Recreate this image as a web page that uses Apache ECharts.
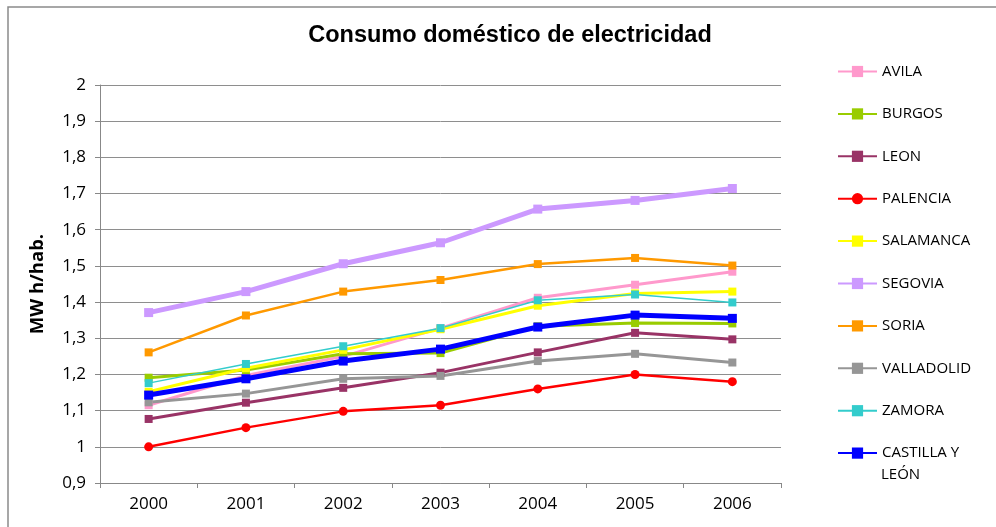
<!DOCTYPE html>
<html>
<head>
<meta charset="utf-8">
<script src="https://cdn.jsdelivr.net/npm/echarts@6/dist/echarts.min.js"></script>
<style>html,body{margin:0;padding:0;background:#fff;}#c{width:996px;height:527px;}</style>
</head>
<body>
<div id="c"></div>
<script>
const years = ['2000','2001','2002','2003','2004','2005','2006'];
const avila      = [1.115, 1.197, 1.250, 1.328, 1.412, 1.448, 1.484];
const burgos     = [1.191, 1.212, 1.257, 1.259, 1.333, 1.342, 1.341];
const leon       = [1.077, 1.122, 1.163, 1.205, 1.261, 1.315, 1.297];
const palencia   = [1.000, 1.053, 1.098, 1.115, 1.160, 1.200, 1.180];
const salamanca  = [1.152, 1.217, 1.268, 1.325, 1.390, 1.424, 1.429];
const segovia    = [1.371, 1.429, 1.506, 1.564, 1.657, 1.681, 1.714];
const soria      = [1.261, 1.363, 1.429, 1.461, 1.505, 1.522, 1.501];
const valladolid = [1.123, 1.147, 1.188, 1.196, 1.237, 1.257, 1.233];
const zamora     = [1.176, 1.229, 1.278, 1.328, 1.405, 1.421, 1.399];
const castilla   = [1.143, 1.188, 1.237, 1.270, 1.331, 1.364, 1.355];

const seriesDefs = [
  {name:'AVILA', data:avila, color:'#FF99CC', w:3, sym:'rect', ss:8},
  {name:'BURGOS', data:burgos, color:'#99CC00', w:3, sym:'rect', ss:8},
  {name:'LEON', data:leon, color:'#993366', w:3, sym:'rect', ss:8},
  {name:'PALENCIA', data:palencia, color:'#FF0000', w:2.5, sym:'circle', ss:9},
  {name:'SALAMANCA', data:salamanca, color:'#FFFF00', w:3, sym:'rect', ss:8},
  {name:'SEGOVIA', data:segovia, color:'#CC99FF', w:5, sym:'rect', ss:9},
  {name:'SORIA', data:soria, color:'#FF9900', w:2.5, sym:'rect', ss:8},
  {name:'VALLADOLID', data:valladolid, color:'#969696', w:3, sym:'rect', ss:8},
  {name:'ZAMORA', data:zamora, color:'#33CCCC', w:1.5, sym:'rect', ss:8},
  {name:'CASTILLA Y LEÓN', data:castilla, color:'#0000FF', w:5, sym:'rect', ss:9}
];

const font = 'Open Sans';
const chart = echarts.init(document.getElementById('c'), null, {renderer:'canvas'});
chart.setOption({
  animation:false,
  backgroundColor:'#fff',
  title:{text:'Consumo doméstico de electricidad', left:505, top:19, textAlign:'center',
    textStyle:{fontFamily:'Liberation Sans', fontWeight:'bold', fontSize:23.5, color:'#000'}},
  graphic:[
    {type:'rect', shape:{x:8, y:7, width:1200, height:700}, style:{fill:'none', stroke:'#8a8a8a', lineWidth:1.5}, silent:true, z:-1},
    {type:'text', x:881, y:475, style:{text:'LEÓN', fontFamily:font, fontSize:15, fill:'#000', verticalAlign:'middle', align:'left'}, silent:true}
  ],
  legend:{
    orient:'vertical', left:837, top:64, height:480, padding:0,
    itemWidth:39, itemHeight:14, itemGap:27.4,
    textStyle:{fontFamily:font, fontSize:15, color:'#000'},
    formatter: n => n === 'CASTILLA Y LEÓN' ? 'CASTILLA Y' : n,
    data: seriesDefs.map(s => s.name)
  },
  grid:{left:100, right:215, top:85, bottom:44, containLabel:false},
  xAxis:{type:'category', data:years, boundaryGap:true,
    axisLine:{lineStyle:{color:'#888', width:1}},
    axisTick:{show:true, length:5, lineStyle:{color:'#888'}},
    axisLabel:{fontFamily:font, fontSize:17, color:'#000', margin:13},
    splitLine:{show:false}},
  yAxis:{type:'value', min:0.9, max:2, interval:0.1,
    name:'MW h/hab.', nameLocation:'middle', nameRotate:90, nameGap:53,
    nameTextStyle:{fontFamily:font, fontWeight:'bold', fontSize:18.5, color:'#000'},
    axisLine:{show:true, lineStyle:{color:'#888', width:1}},
    axisTick:{show:true, length:5, lineStyle:{color:'#888'}},
    axisLabel:{fontFamily:font, fontSize:17, color:'#000', margin:14,
      formatter: v => String(Math.round(v*10)/10).replace('.', ',')},
    splitLine:{show:true, lineStyle:{color:'#8e8e8e', width:1}}},
  series: seriesDefs.map(s => ({
    name:s.name, type:'line', data:s.data, symbol:s.sym, symbolSize:s.ss,
    showSymbol:true, smooth:false,
    lineStyle:{color:s.color, width:s.w},
    itemStyle:{color:s.color, borderWidth:0},
    emphasis:{disabled:true}
  }))
});
</script>
</body>
</html>
